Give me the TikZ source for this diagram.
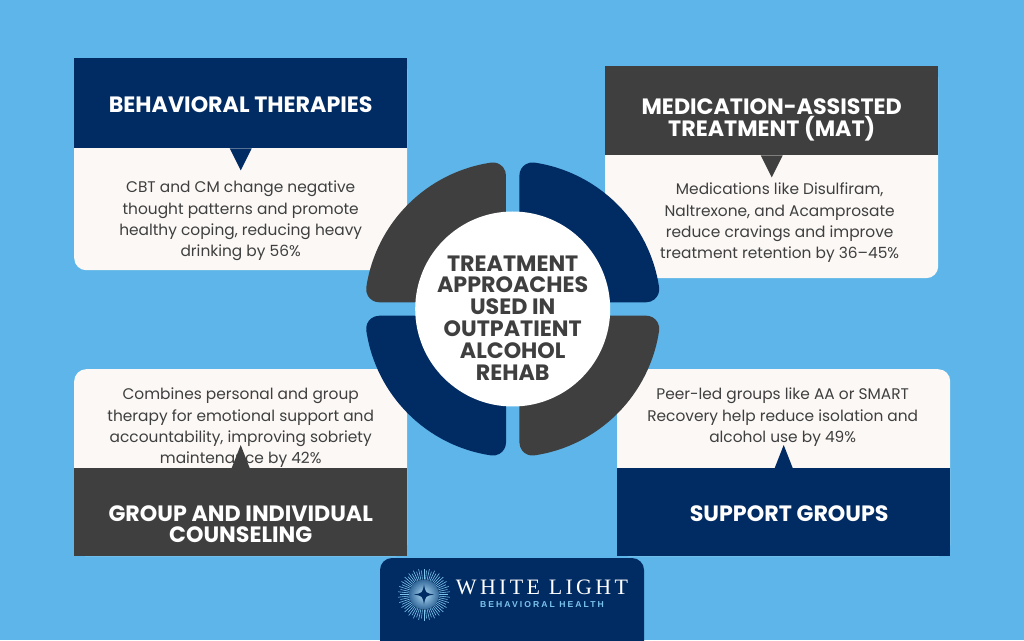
\documentclass[tikz,border=0pt]{standalone}
\usepackage{fontspec}
\setmainfont{Poppins}
\newfontfamily\logofont[LetterSpace=15]{Liberation Serif}
\newfontfamily\subfont[LetterSpace=24]{Liberation Sans}
\usetikzlibrary{positioning}
\definecolor{sky}{HTML}{5DB5E9}
\definecolor{navy}{HTML}{012B63}
\definecolor{slate}{HTML}{3F3F3F}
\definecolor{paper}{HTML}{FBF8F6}
\definecolor{glow}{HTML}{7CC4EE}
\tikzset{
  card/.style={fill=paper,rounded corners=12pt,minimum width=333pt,inner sep=0pt,anchor=north west},
  head/.style={minimum width=333pt,inner sep=0pt,anchor=north west},
  headtext/.style={inner sep=0pt,text=white,align=center,font=\fontsize{22.2}{21.9}\selectfont\bfseries},
  blurb/.style={inner sep=0pt,text=slate,align=center,font=\fontsize{15.4}{21.3}\selectfont},
  petal/.pic={\fill[#1] (6.7,40) -- (6.7,133.55) arc[start angle=180,end angle=81.6,radius=13pt]
      arc[start angle=81.6,end angle=8.4,radius=148pt]
      arc[start angle=8.4,end angle=-90,radius=13pt] -- (40,6.7) -- cycle;}
}
\begin{document}
\begin{tikzpicture}[x=1pt,y=1pt]
  \path[use as bounding box,fill=sky] (0,0) rectangle (1024,640);

  \node[card,minimum height=212pt] (btcard) at (74,582) {};
  \node[card,minimum height=212pt] (matcard) at (605,574) {};
  \node[card,minimum height=187pt] (gccard) at (74,271) {};
  \node[card,minimum height=187pt] (sgcard) at (617,271) {};

  \node[blurb,below=32pt of btcard.north,yshift=-91pt] (bttext) {CBT and CM change negative\\thought patterns and promote\\healthy coping, reducing heavy\\drinking by 56\%};
  \node[blurb,below=32pt of matcard.north,xshift=8pt,yshift=-85pt] (mattext) {Medications like Disulfiram,\\Naltrexone, and Acamprosate\\reduce cravings and improve\\treatment retention by 36–45\%};
  \node[blurb,below=19pt of gccard.north] (gctext) {Combines personal and group\\therapy for emotional support and\\accountability, improving sobriety\\maintenance by 42\%};
  \node[blurb,below=19pt of sgcard.north,xshift=-1pt] (sgtext) {Peer-led groups like AA or SMART\\Recovery help reduce isolation and\\alcohol use by 49\%};

  \node[head,fill=navy,minimum height=90pt] (bt) at (btcard.north west) {};
  \node[head,fill=slate,minimum height=89pt] (mat) at (matcard.north west) {};
  \node[head,fill=slate,minimum height=88pt] (gc) at (74,172) {};
  \node[head,fill=navy,minimum height=88pt] (sg) at (617,172) {};
  \node[headtext,yshift=-1pt] (bttitle) at (bt) {BEHAVIORAL THERAPIES};
  \node[headtext,yshift=-9.5pt] (mattitle) at (mat) {MEDICATION-ASSISTED\\TREATMENT (MAT)};
  \node[headtext,yshift=-12pt] (gctitle) at (gc) {GROUP AND INDIVIDUAL\\COUNSELING};
  \node[headtext,xshift=5.5pt,yshift=-1pt] (sgtitle) at (sg) {SUPPORT GROUPS};

  \fill[navy] ([xshift=-11pt]bt.south) -- ([xshift=11pt]bt.south) -- ([yshift=-22pt]bt.south) -- cycle;
  \fill[slate] ([xshift=-11pt]mat.south) -- ([xshift=11pt]mat.south) -- ([yshift=-22pt]mat.south) -- cycle;
  \fill[slate] ([xshift=-9pt]gc.north) -- ([xshift=9pt]gc.north) -- ([yshift=23pt]gc.north) -- cycle;
  \fill[navy] ([xshift=-9pt]sg.north) -- ([xshift=9pt]sg.north) -- ([yshift=23pt]sg.north) -- cycle;

  \coordinate (hub) at (512.7,331);
  \pic at (hub) {petal=navy};
  \pic[rotate=90] at (hub) {petal=slate};
  \pic[rotate=180] at (hub) {petal=navy};
  \pic[rotate=270] at (hub) {petal=slate};
  \node[circle,fill=white,minimum size=195pt,inner sep=0pt] (disc) at (hub) {};
  \node[inner sep=0pt,yshift=-9pt,text=slate,align=center,
    font=\fontsize{22.2}{21.9}\selectfont\bfseries] (title) at (disc)
    {TREATMENT\\APPROACHES\\USED IN\\OUTPATIENT\\ALCOHOL\\REHAB};

  \fill[navy,rounded corners=12pt] (380,-20) rectangle (644,82);
  \node[inner sep=0pt,text=white,font=\fontsize{22}{24}\selectfont\logofont] (brand) at (542,53) {WHITE LIGHT};
  \node[inner sep=0pt,text=glow,below=7pt of brand,font=\fontsize{8.6}{9}\selectfont\bfseries\subfont] (sub) {BEHAVIORAL HEALTH};

  \coordinate (spark) at (424,45.5);
  \foreach \a in {0,6,...,354}
    \draw[glow,line width=.6pt] (spark) ++(\a:10pt) -- ++(\a:{14+mod(\a,12)/3});
  \fill[inner color=glow!60!white,outer color=glow!40!navy] (spark) circle (15pt);
  \fill[navy,shift={(spark)}] (10,0) .. controls (1.5,1.5) .. (0,10) .. controls (-1.5,1.5) .. (-10,0)
     .. controls (-1.5,-1.5) .. (0,-10) .. controls (1.5,-1.5) .. (10,0) -- cycle;
\end{tikzpicture}
\end{document}
